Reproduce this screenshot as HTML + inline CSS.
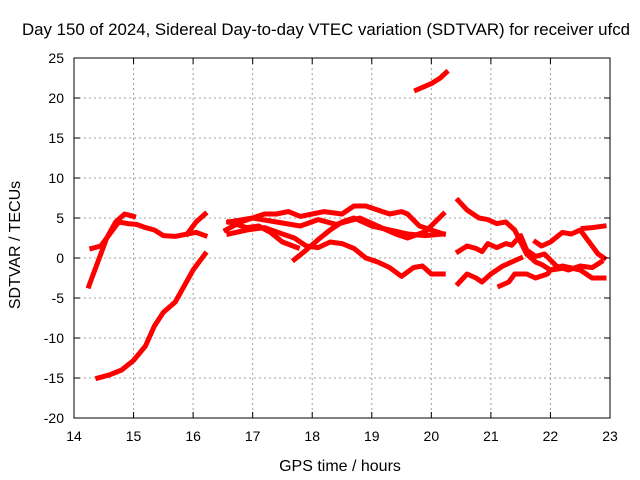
<!DOCTYPE html>
<html><head><meta charset="utf-8"><style>
body{margin:0;background:#fff;}
svg{display:block;font-family:"Liberation Sans",sans-serif;}
</style></head><body>
<svg id="chart" width="640" height="480">
<rect width="640" height="480" fill="#fff"/>
<g id="grid"></g>
<g id="series"></g>
<rect x="74" y="58" width="536" height="360" fill="none" stroke="#000" stroke-width="1"/>
<g id="ticks"></g>
<text x="326" y="35" text-anchor="middle" font-size="16.5" textLength="608" lengthAdjust="spacingAndGlyphs">Day 150 of 2024, Sidereal Day-to-day VTEC variation (SDTVAR) for receiver ufcd</text>
<text x="340" y="471" text-anchor="middle" font-size="16">GPS time / hours</text>
<text transform="translate(20,245) rotate(-90)" text-anchor="middle" font-size="16">SDTVAR / TECUs</text>
</svg>
<script>
const xTicks=[14,15,16,17,18,19,20,21,22,23];
const yTicks=[25,20,15,10,5,0,-5,-10,-15,-20];
const sA=[[14.25,-3.5],[14.35,-1.5],[14.45,0.5],[14.55,2.5],[14.7,4.5],[14.85,5.5],[15.0,5.2]];
const sB=[[14.3,1.2],[14.45,1.5],[14.6,3],[14.75,4.5],[14.9,4.3],[15.05,4.2],[15.2,3.8],[15.35,3.5],[15.5,2.8],[15.7,2.7],[15.9,3],[16.05,3.2],[16.2,2.8]];
const sC=[[15.9,3],[16.05,4.5],[16.2,5.5]];
const sD=[[14.4,-15],[14.6,-14.6],[14.8,-14],[15.0,-12.8],[15.2,-11],[15.35,-8.5],[15.5,-6.8],[15.7,-5.5],[15.85,-3.5],[16.0,-1.5],[16.2,0.5]];
const sE=[[16.55,3.5],[16.8,4.5],[17.0,5],[17.2,5.5],[17.4,5.5],[17.6,5.8],[17.8,5.2],[18.0,5.5],[18.2,5.8],[18.5,5.5],[18.7,6.5],[18.9,6.5],[19.1,6],[19.3,5.5],[19.5,5.8],[19.6,5.5],[19.8,4],[20.0,3.5],[20.2,3]];
const sF=[[16.6,4.5],[16.9,3.8],[17.1,4],[17.3,3.2],[17.5,2],[17.75,1.3]];
const sG=[[17.7,-0.2],[17.9,1],[18.1,2.3],[18.3,3.5],[18.5,4.5],[18.7,5],[19.0,4],[19.3,3.5],[19.6,3],[19.9,2.8],[20.2,3]];
const sH=[[16.6,3],[16.9,3.5],[17.2,3.8],[17.5,3],[17.7,2.5],[17.9,1.5],[18.1,1.3],[18.3,2],[18.5,1.8],[18.7,1.2],[18.9,0],[19.1,-0.5],[19.3,-1.2],[19.5,-2.3],[19.7,-1.2],[19.85,-1],[20.0,-2],[20.2,-2]];
const sI=[[16.6,4.5],[17.0,5],[17.4,4.5],[17.8,4],[18.1,4.8],[18.4,4.2],[18.8,5],[19.1,4],[19.4,3],[19.6,2.5],[19.9,3.3],[20.2,5.5]];
const sJ=[[19.75,21],[20.0,21.8],[20.15,22.5],[20.25,23.2]];
const sK=[[20.45,7.2],[20.6,6],[20.8,5],[20.95,4.8],[21.1,4.3],[21.25,4.5],[21.4,3.5],[21.5,2],[21.6,0.5],[21.75,-0.5],[21.85,-0.8],[22.0,-1.5],[22.2,-1.3]];
const sL=[[20.45,0.8],[20.6,1.5],[20.75,1.2],[20.85,0.8],[20.95,1.8],[21.1,1.3],[21.25,1.8],[21.35,1.6],[21.5,2.8],[21.6,1],[21.75,0.2],[21.9,0.5],[22.1,-1],[22.3,-1.5],[22.5,-1],[22.7,-1.2],[22.85,-0.5]];
const sM=[[20.45,-3.2],[20.6,-2],[20.75,-2.5],[20.85,-3],[21.0,-2],[21.2,-1],[21.35,-0.5],[21.5,0]];
const sN=[[21.15,-3.5],[21.3,-3],[21.4,-2],[21.6,-2],[21.75,-2.5],[21.95,-2],[22.0,-1.5],[22.2,-1],[22.5,-1.5],[22.7,-2.5],[22.9,-2.5]];
const sO=[[21.75,2],[21.85,1.5],[22.0,2],[22.2,3.2],[22.35,3],[22.5,3.5],[22.65,2],[22.8,0.5],[22.9,0]];
const sP=[[22.55,3.7],[22.7,3.8],[22.9,4]];
const allSeries=[sA,sB,sC,sD,sE,sF,sG,sH,sI,sJ,sK,sL,sM,sN,sO,sP];
const X=h=>74+(h-14)*536/9;
const Y=v=>58+(25-v)*8;
const NS="http://www.w3.org/2000/svg";
function mk(t,a,p){const e=document.createElementNS(NS,t);for(const k in a)e.setAttribute(k,a[k]);p.appendChild(e);return e;}
const grid=document.getElementById('grid'),ticks=document.getElementById('ticks'),ser=document.getElementById('series');
xTicks.forEach(t=>{const x=X(t);
 if(t>14&&t<23){const g=mk('line',{x1:x,x2:x,y1:58,y2:418,stroke:'#a0a0a0','stroke-dasharray':'2,3'},grid);
 
 }
 mk('line',{x1:x,x2:x,y1:418,y2:412,stroke:'#000'},ticks);
 mk('line',{x1:x,x2:x,y1:58,y2:64,stroke:'#000'},ticks);
 const l=mk('text',{x:x,y:441,'text-anchor':'middle','font-size':'14'},ticks);l.textContent=t;
 
 });
yTicks.forEach(t=>{const y=Y(t);
 if(t<25&&t>-20){const g=mk('line',{x1:74,x2:610,y1:y,y2:y,stroke:'#a0a0a0','stroke-dasharray':'2,3'},grid);
 
 }
 mk('line',{x1:74,x2:80,y1:y,y2:y,stroke:'#000'},ticks);
 mk('line',{x1:604,x2:610,y1:y,y2:y,stroke:'#000'},ticks);
 const l=mk('text',{x:64,y:y+5,'text-anchor':'end','font-size':'14'},ticks);l.textContent=t;
 
 });
allSeries.forEach(s=>{
 const p=mk('polyline',{points:s.map(d=>X(d[0])+','+Y(d[1])).join(' '),fill:'none',stroke:'#ff0000','stroke-width':'5','stroke-linejoin':'round','stroke-linecap':'square'},ser);
 
 
});
</script>
</body></html>
